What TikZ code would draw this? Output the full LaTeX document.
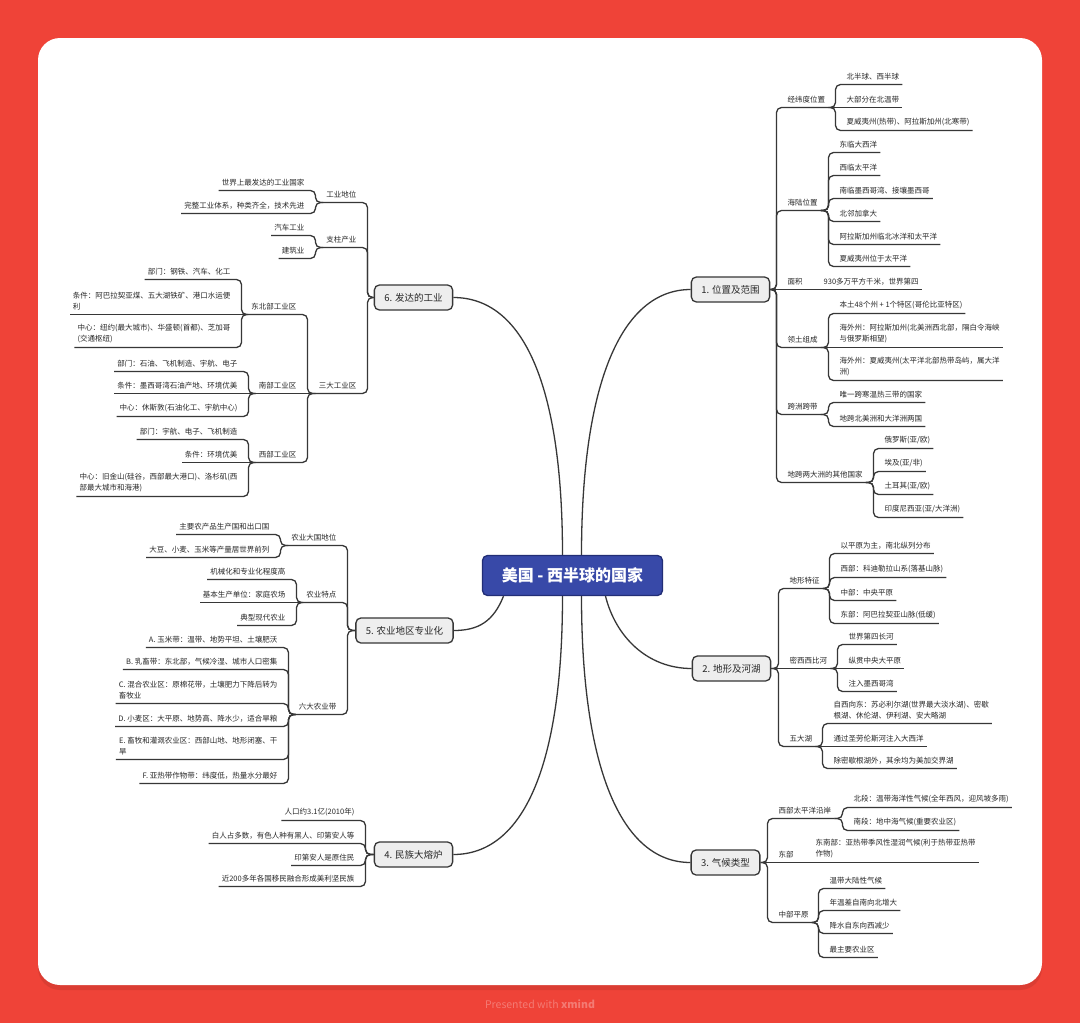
\documentclass[tikz,border=0pt]{standalone}
\usepackage{fontspec}
\setmainfont{Noto Sans CJK SC}
\usepackage{xcolor}
\usepackage{tikz}
\definecolor{bgred}{RGB}{239,67,56}
\definecolor{linegray}{RGB}{55,55,55}
\definecolor{txtgray}{RGB}{40,40,40}
\definecolor{topicfill}{RGB}{238,238,238}
\definecolor{rootblue}{RGB}{56,73,168}
\definecolor{rootedge}{RGB}{34,46,118}
\newcommand{\leaffont}{\fontsize{7.5}{11.5}\selectfont}

\begin{document}
\begin{tikzpicture}[x=1pt,y=-1pt,
  root/.style={draw=rootedge,fill=rootblue,line width=1.3pt,rounded corners=5pt,
    minimum width=180pt,minimum height=40pt,text=white,font=\fontsize{16}{18}\selectfont\bfseries},
  topic/.style={draw=linegray,fill=topicfill,line width=1.3pt,rounded corners=5pt,
    inner xsep=10pt,minimum height=25pt,text=txtgray,font=\fontsize{9.5}{11}\selectfont},
  ritem/.style={anchor=south west,inner xsep=3pt,inner ysep=4pt,align=left,text=txtgray,font=\leaffont},
  litem/.style={ritem,anchor=south east},
  link/.style={draw=linegray,line width=1.3pt,rounded corners=5pt},
  curve/.style={draw=linegray,line width=1.3pt}
]
\useasboundingbox (0,0) rectangle (1080,1023);
\fill[bgred] (0,0) rectangle (1080,1023);
\fill[bgred!80!black,opacity=.4,rounded corners=22pt] (38,42) rectangle (1042,990);
\fill[white,rounded corners=22pt] (38,38) rectangle (1042,985);
\node[text=bgred!70!white,font=\fontsize{10.5}{12}\selectfont] (credit) at (540,1004) {Presented with \textbf{xmind}};

\begin{scope}[shift={(0.5,0.5)}]
\node[root] (usa) at (572,575) {美国 - 西半球的国家};
\node[topic] (pos) at (730,289) {1. 位置及范围};
\node[topic] (land) at (731,668) {2. 地形及河湖};
\node[topic] (clim) at (725,862) {3. 气候类型};
\node[topic] (folk) at (413,854) {4. 民族大熔炉};
\node[topic] (agri) at (404,630) {5. 农业地区专业化};
\node[topic] (ind) at (413,297) {6. 发达的工业};
\draw[curve] ([xshift=9pt]usa.north) .. controls +(0,-170) and +(-70,0) .. (pos.west);
\draw[curve] ([xshift=33pt]usa.south) .. controls +(10,40) and +(-45,0) .. (land.west);
\draw[curve] ([xshift=9pt]usa.south) .. controls +(0,170) and +(-70,0) .. (clim.west);
\draw[curve] ([xshift=-10pt]usa.south) .. controls +(0,170) and +(70,0) .. (folk.east);
\draw[curve] ([xshift=-69pt]usa.south) .. controls +(-10,25) and +(25,0) .. (agri.east);
\draw[curve] ([xshift=-10pt]usa.north) .. controls +(0,-170) and +(70,0) .. (ind.east);

\node[ritem] (lat) at (784,107) {经纬度位置};
\node[ritem] (sea) at (784,210) {海陆位置};
\node[ritem] (area) at (784,289) {面积};
\node[ritem] (terr) at (784,347) {领土组成};
\node[ritem] (span) at (784,414) {跨洲跨带};
\node[ritem] (cont) at (784,482) {地跨两大洲的其他国家};
\draw[link] (pos.east) -| ([xshift=-8pt]lat.south west) -- (lat.south east);
\draw[link] (pos.east) -| ([xshift=-8pt]sea.south west) -- (sea.south east);
\draw[link] (pos.east) -- (area.south east);
\draw[link] (pos.east) -| ([xshift=-8pt]terr.south west) -- (terr.south east);
\draw[link] (pos.east) -| ([xshift=-8pt]span.south west) -- (span.south east);
\draw[link] (pos.east) -| ([xshift=-8pt]cont.south west) -- (cont.south east);

\node[ritem] (lat1) at (843,84) {北半球、西半球};
\node[ritem] (lat2) at (843,107) {大部分在北温带};
\node[ritem] (lat3) at (843,130) {夏威夷州(热带)、阿拉斯加州(北寒带)};
\draw[link] (lat.south east) -| ([xshift=-8pt]lat1.south west) -- (lat1.south east);
\draw[link] (lat.south east) -- (lat2.south east);
\draw[link] (lat.south east) -| ([xshift=-8pt]lat3.south west) -- (lat3.south east);

\node[ritem] (sea1) at (836,152) {东临大西洋};
\node[ritem] (sea2) at (836,175) {西临太平洋};
\node[ritem] (sea3) at (836,198) {南临墨西哥湾、接壤墨西哥};
\node[ritem] (sea4) at (836,221) {北邻加拿大};
\node[ritem] (sea5) at (836,244) {阿拉斯加州临北冰洋和太平洋};
\node[ritem] (sea6) at (836,266) {夏威夷州位于太平洋};
\draw[link] (sea.south east) -| ([xshift=-8pt]sea1.south west) -- (sea1.south east);
\draw[link] (sea.south east) -| ([xshift=-8pt]sea2.south west) -- (sea2.south east);
\draw[link] (sea.south east) -| ([xshift=-8pt]sea3.south west) -- (sea3.south east);
\draw[link] (sea.south east) -| ([xshift=-8pt]sea4.south west) -- (sea4.south east);
\draw[link] (sea.south east) -| ([xshift=-8pt]sea5.south west) -- (sea5.south east);
\draw[link] (sea.south east) -| ([xshift=-8pt]sea6.south west) -- (sea6.south east);

\node[ritem] (area1) at (820,289) {930多万平方千米，世界第四};
\draw[link] (area.south east) -- (area1.south east);

\node[ritem] (terr1) at (836,313) {本土48个州 + 1个特区(哥伦比亚特区)};
\node[ritem] (terr2) at (836,347) {海外州：阿拉斯加州(北美洲西北部，隔白令海峡\\与俄罗斯相望)};
\node[ritem] (terr3) at (836,380) {海外州：夏威夷州(太平洋北部热带岛屿，属大洋\\洲)};
\draw[link] (terr.south east) -| ([xshift=-8pt]terr1.south west) -- (terr1.south east);
\draw[link] (terr.south east) -- (terr2.south east);
\draw[link] (terr.south east) -| ([xshift=-8pt]terr3.south west) -- (terr3.south east);

\node[ritem] (span1) at (836,402) {唯一跨寒温热三带的国家};
\node[ritem] (span2) at (836,426) {地跨北美洲和大洋洲两国};
\draw[link] (span.south east) -| ([xshift=-8pt]span1.south west) -- (span1.south east);
\draw[link] (span.south east) -| ([xshift=-8pt]span2.south west) -- (span2.south east);

\node[ritem] (cont1) at (881,448) {俄罗斯(亚/欧)};
\node[ritem] (cont2) at (881,471) {埃及(亚/非)};
\node[ritem] (cont3) at (881,494) {土耳其(亚/欧)};
\node[ritem] (cont4) at (881,517) {印度尼西亚(亚/大洋洲)};
\draw[link] (cont.south east) -| ([xshift=-8pt]cont1.south west) -- (cont1.south east);
\draw[link] (cont.south east) -| ([xshift=-8pt]cont2.south west) -- (cont2.south east);
\draw[link] (cont.south east) -| ([xshift=-8pt]cont3.south west) -- (cont3.south east);
\draw[link] (cont.south east) -| ([xshift=-8pt]cont4.south west) -- (cont4.south east);

\node[ritem] (relief) at (786,588) {地形特征};
\node[ritem] (river) at (786,668) {密西西比河};
\node[ritem] (lakes) at (786,746) {五大湖};
\draw[link] (land.east) -| ([xshift=-8pt]relief.south west) -- (relief.south east);
\draw[link] (land.east) -- (river.south east);
\draw[link] (land.east) -| ([xshift=-8pt]lakes.south west) -- (lakes.south east);

\node[ritem] (relief1) at (837,553) {以平原为主，南北纵列分布};
\node[ritem] (relief2) at (837,577) {西部：科迪勒拉山系(落基山脉)};
\node[ritem] (relief3) at (837,600) {中部：中央平原};
\node[ritem] (relief4) at (837,623) {东部：阿巴拉契亚山脉(低缓)};
\draw[link] (relief.south east) -| ([xshift=-8pt]relief1.south west) -- (relief1.south east);
\draw[link] (relief.south east) -| ([xshift=-8pt]relief2.south west) -- (relief2.south east);
\draw[link] (relief.south east) -| ([xshift=-8pt]relief3.south west) -- (relief3.south east);
\draw[link] (relief.south east) -| ([xshift=-8pt]relief4.south west) -- (relief4.south east);

\node[ritem] (river1) at (845,644) {世界第四长河};
\node[ritem] (river2) at (845,668) {纵贯中央大平原};
\node[ritem] (river3) at (845,691) {注入墨西哥湾};
\draw[link] (river.south east) -| ([xshift=-8pt]river1.south west) -- (river1.south east);
\draw[link] (river.south east) -- (river2.south east);
\draw[link] (river.south east) -| ([xshift=-8pt]river3.south west) -- (river3.south east);

\node[ritem] (lakes1) at (830,723) {自西向东：苏必利尔湖(世界最大淡水湖)、密歇\\根湖、休伦湖、伊利湖、安大略湖};
\node[ritem] (lakes2) at (830,746) {通过圣劳伦斯河注入大西洋};
\node[ritem] (lakes3) at (830,768) {除密歇根湖外，其余均为美加交界湖};
\draw[link] (lakes.south east) -| ([xshift=-8pt]lakes1.south west) -- (lakes1.south east);
\draw[link] (lakes.south east) -- (lakes2.south east);
\draw[link] (lakes.south east) -| ([xshift=-8pt]lakes3.south west) -- (lakes3.south east);

\node[ritem] (west) at (775,818) {西部太平洋沿岸};
\node[ritem] (east) at (775,862) {东部};
\node[ritem] (plain) at (775,922) {中部平原};
\draw[link] (clim.east) -| ([xshift=-8pt]west.south west) -- (west.south east);
\draw[link] (clim.east) -- (east.south east);
\draw[link] (clim.east) -| ([xshift=-8pt]plain.south west) -- (plain.south east);

\node[ritem] (west1) at (850,807) {北段：温带海洋性气候(全年西风，迎风坡多雨)};
\node[ritem] (west2) at (850,830) {南段：地中海气候(重要农业区)};
\draw[link] (west.south east) -| ([xshift=-8pt]west1.south west) -- (west1.south east);
\draw[link] (west.south east) -| ([xshift=-8pt]west2.south west) -- (west2.south east);

\node[ritem] (east1) at (812,862) {东南部：亚热带季风性湿润气候(利于热带亚热带\\作物)};
\draw[link] (east.south east) -- (east1.south east);

\node[ritem] (plain1) at (826,888) {温带大陆性气候};
\node[ritem] (plain2) at (826,910) {年温差自南向北增大};
\node[ritem] (plain3) at (826,933) {降水自东向西减少};
\node[ritem] (plain4) at (826,957) {最主要农业区};
\draw[link] (plain.south east) -| ([xshift=-8pt]plain1.south west) -- (plain1.south east);
\draw[link] (plain.south east) -| ([xshift=-8pt]plain2.south west) -- (plain2.south east);
\draw[link] (plain.south east) -| ([xshift=-8pt]plain3.south west) -- (plain3.south east);
\draw[link] (plain.south east) -| ([xshift=-8pt]plain4.south west) -- (plain4.south east);

\node[litem] (rank) at (359,202) {工业地位};
\node[litem] (pillar) at (359,247) {支柱产业};
\node[litem] (zones) at (359,393) {三大工业区};
\draw[link] (ind.west) -| ([xshift=8pt]rank.south east) -- (rank.south west);
\draw[link] (ind.west) -| ([xshift=8pt]pillar.south east) -- (pillar.south west);
\draw[link] (ind.west) -| ([xshift=8pt]zones.south east) -- (zones.south west);

\node[litem] (rank1) at (307,190) {世界上最发达的工业国家};
\node[litem] (rank2) at (307,213) {完整工业体系，种类齐全，技术先进};
\draw[link] (rank.south west) -| ([xshift=8pt]rank1.south east) -- (rank1.south west);
\draw[link] (rank.south west) -| ([xshift=8pt]rank2.south east) -- (rank2.south west);

\node[litem] (pillar1) at (307,235) {汽车工业};
\node[litem] (pillar2) at (307,258) {建筑业};
\draw[link] (pillar.south west) -| ([xshift=8pt]pillar1.south east) -- (pillar1.south west);
\draw[link] (pillar.south west) -| ([xshift=8pt]pillar2.south east) -- (pillar2.south west);

\node[litem] (ne) at (299,314) {东北部工业区};
\node[litem] (south) at (299,393) {南部工业区};
\node[litem] (wz) at (299,462) {西部工业区};
\draw[link] (zones.south west) -| ([xshift=8pt]ne.south east) -- (ne.south west);
\draw[link] (zones.south west) -- (south.south west);
\draw[link] (zones.south west) -| ([xshift=8pt]wz.south east) -- (wz.south west);

\node[litem] (ne1) at (233,279) {部门：钢铁、汽车、化工};
\node[litem] (ne2) at (233,314) {条件：阿巴拉契亚煤、五大湖铁矿、港口水运便\\利};
\node[litem] (ne3) at (233,347) {中心：纽约(最大城市)、华盛顿(首都)、芝加哥\\(交通枢纽)};
\draw[link] (ne.south west) -| ([xshift=8pt]ne1.south east) -- (ne1.south west);
\draw[link] (ne.south west) -- (ne2.south west);
\draw[link] (ne.south west) -| ([xshift=8pt]ne3.south east) -- (ne3.south west);

\node[litem] (south1) at (240,371) {部门：石油、飞机制造、宇航、电子};
\node[litem] (south2) at (240,393) {条件：墨西哥湾石油产地、环境优美};
\node[litem] (south3) at (240,416) {中心：休斯敦(石油化工、宇航中心)};
\draw[link] (south.south west) -| ([xshift=8pt]south1.south east) -- (south1.south west);
\draw[link] (south.south west) -- (south2.south west);
\draw[link] (south.south west) -| ([xshift=8pt]south3.south east) -- (south3.south west);

\node[litem] (wz1) at (240,439) {部门：宇航、电子、飞机制造};
\node[litem] (wz2) at (240,462) {条件：环境优美};
\node[litem] (wz3) at (240,496) {中心：旧金山(硅谷，西部最大港口)、洛杉矶(西\\部最大城市和海港)};
\draw[link] (wz.south west) -| ([xshift=8pt]wz1.south east) -- (wz1.south west);
\draw[link] (wz.south west) -- (wz2.south west);
\draw[link] (wz.south west) -| ([xshift=8pt]wz3.south east) -- (wz3.south west);

\node[litem] (big) at (339,545) {农业大国地位};
\node[litem] (feat) at (339,602) {农业特点};
\node[litem] (belt) at (339,714) {六大农业带};
\draw[link] (agri.west) -| ([xshift=8pt]big.south east) -- (big.south west);
\draw[link] (agri.west) -| ([xshift=8pt]feat.south east) -- (feat.south west);
\draw[link] (agri.west) -| ([xshift=8pt]belt.south east) -- (belt.south west);

\node[litem] (big1) at (272,534) {主要农产品生产国和出口国};
\node[litem] (big2) at (272,557) {大豆、小麦、玉米等产量居世界前列};
\draw[link] (big.south west) -| ([xshift=8pt]big1.south east) -- (big1.south west);
\draw[link] (big.south west) -| ([xshift=8pt]big2.south east) -- (big2.south west);

\node[litem] (feat1) at (288,579) {机械化和专业化程度高};
\node[litem] (feat2) at (288,602) {基本生产单位：家庭农场};
\node[litem] (feat3) at (288,625) {典型现代农业};
\draw[link] (feat.south west) -| ([xshift=8pt]feat1.south east) -- (feat1.south west);
\draw[link] (feat.south west) -- (feat2.south west);
\draw[link] (feat.south west) -| ([xshift=8pt]feat3.south east) -- (feat3.south west);

\node[litem] (beltA) at (280,647) {A. 玉米带：温带、地势平坦、土壤肥沃};
\node[litem] (beltB) at (280,669) {B. 乳畜带：东北部，气候冷湿、城市人口密集};
\node[litem] (beltC) at (280,703) {C. 混合农业区：原棉花带，土壤肥力下降后转为\\畜牧业};
\node[litem] (beltD) at (280,726) {D. 小麦区：大平原、地势高、降水少，适合旱粮};
\node[litem] (beltE) at (280,759) {E. 畜牧和灌溉农业区：西部山地、地形闭塞、干\\旱};
\node[litem] (beltF) at (280,783) {F. 亚热带作物带：纬度低，热量水分最好};
\draw[link] (belt.south west) -| ([xshift=8pt]beltA.south east) -- (beltA.south west);
\draw[link] (belt.south west) -| ([xshift=8pt]beltB.south east) -- (beltB.south west);
\draw[link] (belt.south west) -| ([xshift=8pt]beltC.south east) -- (beltC.south west);
\draw[link] (belt.south west) -| ([xshift=8pt]beltD.south east) -- (beltD.south west);
\draw[link] (belt.south west) -| ([xshift=8pt]beltE.south east) -- (beltE.south west);
\draw[link] (belt.south west) -| ([xshift=8pt]beltF.south east) -- (beltF.south west);

\node[litem] (folk1) at (357,820) {人口约3.1亿(2010年)};
\node[litem] (folk2) at (357,843) {白人占多数，有色人种有黑人、印第安人等};
\node[litem] (folk3) at (357,865) {印第安人是原住民};
\node[litem] (folk4) at (357,886) {近200多年各国移民融合形成美利坚民族};
\draw[link] (folk.west) -| ([xshift=8pt]folk1.south east) -- (folk1.south west);
\draw[link] (folk.west) -| ([xshift=8pt]folk2.south east) -- (folk2.south west);
\draw[link] (folk.west) -| ([xshift=8pt]folk3.south east) -- (folk3.south west);
\draw[link] (folk.west) -| ([xshift=8pt]folk4.south east) -- (folk4.south west);
\end{scope}
\end{tikzpicture}
\end{document}
